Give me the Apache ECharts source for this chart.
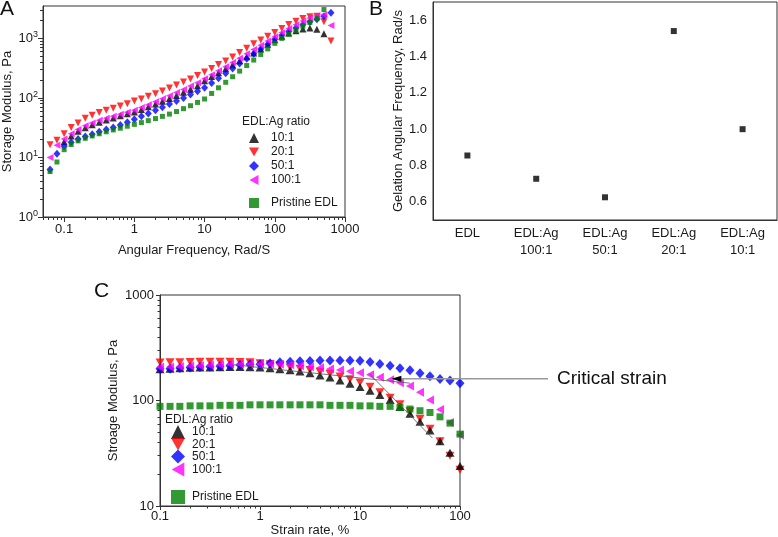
<!DOCTYPE html>
<html><head><meta charset="utf-8">
<script src="https://cdn.jsdelivr.net/npm/echarts@6/dist/echarts.min.js"></script>
<style>html,body{margin:0;padding:0;background:#fff}#c{width:778px;height:537px}</style>
</head><body><div id="c"></div>
<script>
// ---------- Panel A: storage modulus vs angular frequency ----------
const freqA = [0.063,0.079,0.1,0.126,0.158,0.2,0.251,0.316,0.398,0.501,0.631,0.794,1,1.26,1.58,2,2.51,3.16,3.98,5.01,6.31,7.94,10,12.6,15.8,20,25.1,31.6,39.8,50.1,63.1,79.4,100,126,158,200,251,316,398,501,631];
const a10 = [null,null,18.4,23,27.5,31.5,35.5,39,42.5,46,50,54,58,64,71,79,88,98,110,124,140,160,195,228,266,310,362,420,490,570,665,800,950,1090,1230,1340,1440,1490,1430,1200,null];
const a20 = [16.4,19.4,25,31.8,38,45.5,51,56.7,62,67,73,80,89,96,107,118,131,147,165,186,208,237,273,311,363,418,489,578,684,809,944,1087,1253,1463,1706,1944,2150,2300,2350,1900,900];
const a50 = [6.3,11.5,15.4,18,20.5,22.5,24.5,27,29.5,32,35,39,44,49,55,62,70,79,89,100,114,130,148,178,215,260,313,378,456,550,663,800,965,1130,1310,1500,1700,1900,2100,2350,2700];
const a100 = [10,16,20.5,25,29.5,34,38,42,45.5,49,53,57.5,62,69,77,86,97,109,123,139,158,180,210,245,285,333,395,465,550,650,770,905,1070,1250,1460,1700,1950,2200,2400,2500,1650];
const aPristine = [5.8,8.4,13.5,16.5,19,21,23,25,27,29,31,33.5,36,38.5,41.5,45,49,53.5,59,66,74,84,96,119,148,183,227,282,350,433,537,666,826,1000,1170,1370,1600,1850,2150,3050,null];
const ticksAx = [0.1,1,10,100,1000];
const ticksAy = [1,10,100,1000];

// ---------- Panel B: gelation angular frequency ----------
const catB = ['EDL','EDL:Ag\n100:1','EDL:Ag\n50:1','EDL:Ag\n20:1','EDL:Ag\n10:1'];
const valB = [0.855,0.727,0.625,1.54,1.0];
const ticksBy = [0.6,0.8,1.0,1.2,1.4,1.6];
const minorBy = [0.7,0.9,1.1,1.3,1.5];

// ---------- Panel C: storage modulus vs strain ----------
const strainC = [0.1,0.126,0.158,0.2,0.251,0.316,0.398,0.501,0.631,0.794,1,1.26,1.58,2,2.51,3.16,3.98,5.01,6.31,7.94,10,12.6,15.8,20,25.1,31.6,39.8,50.1,63.1,79.4,100];
const c10 = [198,200,202,204,205,206,207,208,208,207,205,202,198,194,188,181,173,165,155,144,134,124,113,101,87,75,63,52,41,32,24];
const c20 = [229,230,231,232,233,233,233,233,232,230,226,220,214,207,200,195,187,179,169,159,148,135,120,106,92,79,67,54,41,30,22];
const c50 = [200,200,203,206,208,209,211,214,217,219,221,225,230,233,235,237,240,240,240,240,238,232,222,213,202,193,181,170,160,155,146];
const c100 = [207,208,210,212,214,216,218,220,221,222,222,222,221,218,214,209,204,199,195,189,183,175,166,157,147,137,120,101,82,62,47];
const cPristine = [88,88,88,89,89,89,90,90,90,91,91,91,91,91,91,91,91,90,90,90,89,89,88,88,86,83,80,77,70,61,48];
const fitFlatX = [0.55,31.6], fitFlatY = [218,146];
const fitSteepX = [12.3,53], fitSteepY = [181,44];
const criticalPoint = [20.6,161];
const ticksCx = [0.1,1,10,100];
const ticksCy = [10,100,1000];

const seriesNames = ['10:1','20:1','50:1','100:1'];
const pristineName = 'Pristine EDL';

function minorLog(lo, hi){ const out=[]; for(let d=Math.floor(Math.log10(lo)); d<Math.ceil(Math.log10(hi)); d++){ for(let m=2;m<=9;m++){ const v=m*Math.pow(10,d); if(v>=lo*0.999 && v<=hi*1.001) out.push(+v.toPrecision(3)); } } return out; }
function pairs(xs, ys){ return xs.map((x,i)=> ys[i]==null ? null : [x, ys[i]]).filter(Boolean); }

const FONT = "'Liberation Sans', Arial, sans-serif";
const AX = '#333', TXT = '#1a1a1a';
const UP = 'triangle';
const DOWN = 'path://M0,0L10,0L5,9Z';
const LEFT = 'path://M0,5L9,0L9,10Z';
const colors = {k:'#000000', r:'#ff0000', b:'#0000ff', m:'#ff00ff', g:'#008000'};

function mainAxis(o){
  return Object.assign({
    axisLine:{show:true, onZero:false, lineStyle:{color:AX, width:1}},
    splitLine:{show:false},
    nameTextStyle:{fontFamily:FONT, fontSize:13, color:TXT},
  }, o);
}
function minorAxis(o){
  return Object.assign({
    axisLine:{show:false}, splitLine:{show:false}, axisLabel:{show:false}
  }, o);
}
const lbl = (extra)=>Object.assign({fontFamily:FONT, fontSize:13, color:TXT}, extra);
const legA = (data, top, gap)=>({data, orient:'vertical', left:249, top, itemWidth:10, itemHeight:10, itemGap:gap, selectedMode:false, padding:0, symbolKeepAspect:true,
  textStyle:{fontFamily:FONT, fontSize:12, color:TXT, padding:[0,0,0,7]}});
const legC = (data, top, gap)=>({data, orient:'vertical', left:171, top, itemWidth:14, itemHeight:14, itemGap:gap, selectedMode:false, padding:0, symbolKeepAspect:true,
  textStyle:{fontFamily:FONT, fontSize:12, color:TXT, padding:[0,0,0,2]}});

const option = {
  animation:false,
  backgroundColor:'#fff',
  textStyle:{fontFamily:FONT},
  title:[
    {text:'A', left:0, top:-1, padding:0, textStyle:{fontFamily:FONT, fontSize:21, fontWeight:'normal', color:'#111'}},
    {text:'B', left:369, top:-1, padding:0, textStyle:{fontFamily:FONT, fontSize:21, fontWeight:'normal', color:'#111'}},
    {text:'C', left:94, top:281, padding:0, textStyle:{fontFamily:FONT, fontSize:21, fontWeight:'normal', color:'#111'}},
    {text:'EDL:Ag ratio', left:242, top:116, padding:0, textStyle:{fontFamily:FONT, fontSize:12, fontWeight:'normal', color:TXT}},
    {text:'EDL:Ag ratio', left:165, top:414, padding:0, textStyle:{fontFamily:FONT, fontSize:12, fontWeight:'normal', color:TXT}}
  ],
  legend:[
    legA(seriesNames, 132, 2),
    legA([pristineName], 197, 2),
    legC(seriesNames, 425, -1),
    legC([pristineName], 490, 0)
  ],
  grid:[
    {left:43, top:6, width:302, height:211, show:true, borderColor:AX, borderWidth:1, outerBoundsMode:'none'},
    {left:433, top:2, width:344, height:218, show:true, borderColor:AX, borderWidth:1, outerBoundsMode:'none'},
    {left:160, top:295, width:300, height:211, show:true, borderColor:AX, borderWidth:1, outerBoundsMode:'none'}
  ],
  xAxis:[
    mainAxis({gridIndex:0, type:'log', min:0.05, max:1000, position:'bottom',
      axisTick:{customValues:ticksAx, length:5, lineStyle:{color:AX}},
      axisLabel:lbl({customValues:ticksAx, margin:6, formatter:v=>String(v)}),
      name:'Angular Frequency, Rad/S', nameLocation:'middle', nameGap:27}),
    minorAxis({gridIndex:0, type:'log', min:0.05, max:1000, position:'bottom',
      axisTick:{customValues:minorLog(0.05,1000), length:3, lineStyle:{color:AX}}}),
    mainAxis({gridIndex:1, type:'category', data:catB, position:'bottom', boundaryGap:true,
      axisTick:{alignWithLabel:true, length:4, lineStyle:{color:AX}},
      axisLabel:lbl({margin:5, lineHeight:17, interval:0})}),
    mainAxis({gridIndex:2, type:'log', min:0.1, max:100, position:'bottom',
      axisTick:{customValues:ticksCx, length:4, lineStyle:{color:AX}},
      axisLabel:lbl({customValues:ticksCx, margin:4, formatter:v=>String(v)}),
      name:'Strain rate, %', nameLocation:'middle', nameGap:16}),
    minorAxis({gridIndex:2, type:'log', min:0.1, max:100, position:'bottom',
      axisTick:{customValues:minorLog(0.1,100), length:2.5, lineStyle:{color:AX}}})
  ],
  yAxis:[
    mainAxis({gridIndex:0, type:'log', min:1, max:3500, position:'left',
      axisTick:{customValues:ticksAy, length:5, lineStyle:{color:AX}},
      axisLabel:lbl({customValues:ticksAy, margin:5,
        formatter:v=>'{b|10}{s|'+Math.round(Math.log10(v))+'}',
        rich:{b:{fontFamily:FONT, fontSize:13, color:TXT}, s:{fontFamily:FONT, fontSize:9, color:TXT, verticalAlign:'bottom', padding:[0,0,7,0]}}}),
      name:'Storage Modulus, Pa', nameLocation:'middle', nameGap:29}),
    minorAxis({gridIndex:0, type:'log', min:1, max:3500, position:'left',
      axisTick:{customValues:minorLog(1,3500), length:3, lineStyle:{color:AX}}}),
    mainAxis({gridIndex:1, type:'value', min:0.5, max:1.7, position:'left',
      axisTick:{customValues:ticksBy, length:5, lineStyle:{color:AX}},
      axisLabel:lbl({customValues:ticksBy, margin:6, formatter:v=>v.toFixed(1)}),
      name:'Gelation Angular Frequency, Rad/s', nameLocation:'middle', nameGap:28}),
    minorAxis({gridIndex:1, type:'value', min:0.5, max:1.7, position:'left',
      axisTick:{customValues:minorBy, length:3, lineStyle:{color:AX}}}),
    mainAxis({gridIndex:2, type:'log', min:10, max:1000, position:'left',
      axisTick:{customValues:ticksCy, length:4, lineStyle:{color:AX}},
      axisLabel:lbl({customValues:ticksCy, margin:6, formatter:v=>String(v)}),
      name:'Stroage Modulus, Pa', nameLocation:'middle', nameGap:40}),
    minorAxis({gridIndex:2, type:'log', min:10, max:1000, position:'left',
      axisTick:{customValues:minorLog(10,1000), length:2.5, lineStyle:{color:AX}}})
  ],
  series:[
    // Panel A
    {name:'10:1', type:'scatter', xAxisIndex:0, yAxisIndex:0, symbol:UP, symbolSize:[7,7], itemStyle:{color:colors.k}, data:pairs(freqA,a10)},
    {name:'20:1', type:'scatter', xAxisIndex:0, yAxisIndex:0, symbol:DOWN, symbolSize:[7,7], itemStyle:{color:colors.r}, data:pairs(freqA,a20)},
    {name:'50:1', type:'scatter', xAxisIndex:0, yAxisIndex:0, symbol:'diamond', symbolSize:[7,8], itemStyle:{color:colors.b}, data:pairs(freqA,a50)},
    {name:'100:1', type:'scatter', xAxisIndex:0, yAxisIndex:0, symbol:LEFT, symbolSize:[7,7], itemStyle:{color:colors.m}, data:pairs(freqA,a100)},
    {name:pristineName, type:'scatter', xAxisIndex:0, yAxisIndex:0, symbol:'rect', symbolSize:5, itemStyle:{color:colors.g}, data:pairs(freqA,aPristine)},
    // Panel B
    {name:'gelation', type:'scatter', xAxisIndex:2, yAxisIndex:2, symbol:'rect', symbolSize:6, itemStyle:{color:'#000'}, data:valB},
    // Panel C
    {name:'20:1', type:'scatter', xAxisIndex:3, yAxisIndex:4, symbol:DOWN, symbolSize:[9,8], itemStyle:{color:colors.r}, data:pairs(strainC,c20)},
    {name:'10:1', type:'scatter', xAxisIndex:3, yAxisIndex:4, symbol:UP, symbolSize:[9,8], itemStyle:{color:colors.k}, data:pairs(strainC,c10)},
    {name:'50:1', type:'scatter', xAxisIndex:3, yAxisIndex:4, symbol:'diamond', symbolSize:[9,10], itemStyle:{color:colors.b}, data:pairs(strainC,c50)},
    {name:'100:1', type:'scatter', xAxisIndex:3, yAxisIndex:4, symbol:LEFT, symbolSize:[8,9], itemStyle:{color:colors.m}, data:pairs(strainC,c100)},
    {name:pristineName, type:'scatter', xAxisIndex:3, yAxisIndex:4, symbol:'rect', symbolSize:7, itemStyle:{color:colors.g}, data:pairs(strainC,cPristine)},
    {name:'fitFlat', type:'line', xAxisIndex:3, yAxisIndex:4, symbol:'none', lineStyle:{color:'#555', width:0.8}, data:pairs(fitFlatX,fitFlatY), z:3},
    {name:'fitSteep', type:'line', xAxisIndex:3, yAxisIndex:4, symbol:'none', lineStyle:{color:'#555', width:0.8}, data:pairs(fitSteepX,fitSteepY), z:3}
  ]
};

const chart = echarts.init(document.getElementById('c'), null, {renderer:'canvas'});
chart.setOption(option);

// Critical strain annotation: arrow anchored at a data point, line running out to the label.
const tip = chart.convertToPixel({seriesIndex:6}, criticalPoint);
const textX = 557;
chart.setOption({graphic:[
  {type:'line', shape:{x1:tip[0], y1:tip[1], x2:textX-9, y2:tip[1]}, style:{stroke:'#9a9a9a', lineWidth:1.5}, z:10},
  {type:'polygon', shape:{points:[[tip[0],tip[1]],[tip[0]+10,tip[1]-3],[tip[0]+10,tip[1]+3]]}, style:{fill:'#000'}, z:11},
  {type:'text', x:textX, y:tip[1], style:{text:'Critical strain', font:'19px '+FONT, fill:'#111', verticalAlign:'middle', align:'left'}, z:11}
]});
</script></body></html>
